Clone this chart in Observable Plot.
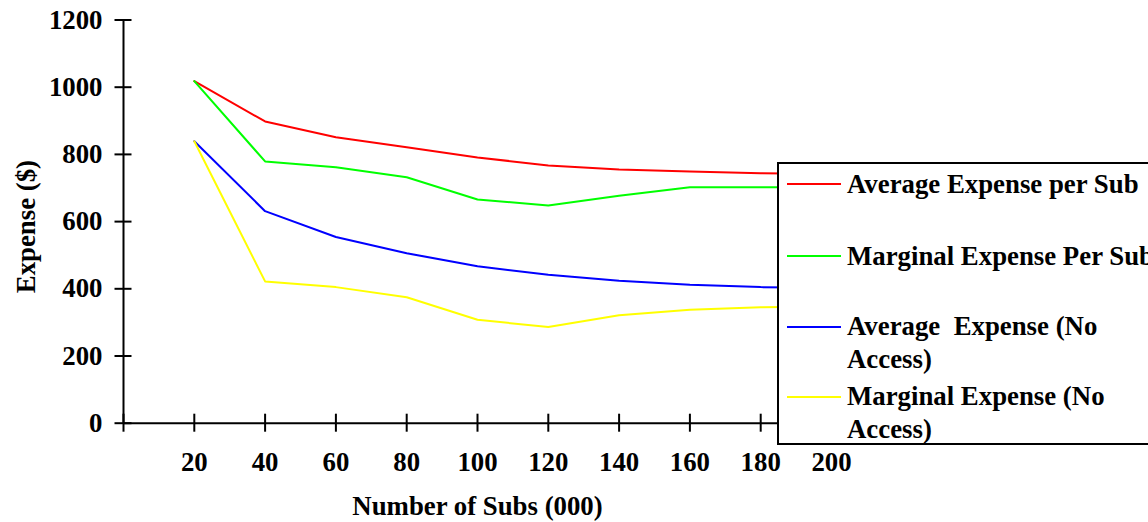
<!DOCTYPE html>
<html>
<head>
<meta charset="utf-8">
<script src="https://cdn.jsdelivr.net/npm/d3@7"></script>
<script src="https://cdn.jsdelivr.net/npm/@observablehq/plot@0.6"></script>
<style>
  html, body { margin: 0; padding: 0; background: #fff; overflow: hidden; }
  #wrap { position: relative; width: 1148px; height: 522px; overflow: hidden; }
  #legend { position: absolute; left: 777px; top: 162px; width: 380px; height: 279px;
            border-style: solid; border-color: #000; border-width: 2px 0 2px 2px;
            background: #fff; box-sizing: content-box; }
  .item { position: absolute; left: 847px; font-family: "Liberation Serif", "Times New Roman", serif;
          font-weight: bold; font-size: 26.8px; line-height: 32.5px; white-space: pre; color: #000; }
  .sw { position: absolute; left: 787px; width: 54px; height: 2px; }
</style>
</head>
<body>
<div id="wrap"></div>
<script>
// ---- data ----
const subs = [20, 40, 60, 80, 100, 120, 140, 160, 180, 200];
const seriesNames = ["Average Expense per Sub", "Marginal Expense Per Sub", "Average  Expense (No Access)", "Marginal Expense (No Access)"];
const seriesColors = ["#ff0000", "#00ff00", "#0000ff", "#ffff00"];
const avgPerSub    = [1018, 898, 851, 821, 791, 767, 755, 749, 744, 742];
const margPerSub   = [1018, 779, 762, 732, 666, 648, 677, 702, 702, 702];
const avgNoAccess  = [839, 631, 554, 506, 467, 442, 424, 412, 405, 403];
const margNoAccess = [839, 422, 405, 375, 308, 286, 321, 338, 345, 347];
const xTickValues = [0, 20, 40, 60, 80, 100, 120, 140, 160, 180, 200];
const xTickLabels = [20, 40, 60, 80, 100, 120, 140, 160, 180, 200];
const yTickValues = [0, 200, 400, 600, 800, 1000, 1200];
const xTitle = "Number of Subs (000)";
const yTitle = "Expense ($)";
const legendLines = [["Average Expense per Sub"], ["Marginal Expense Per Sub"], ["Average  Expense (No", "Access)"], ["Marginal Expense (No", "Access)"]];

const allSeries = [avgPerSub, margPerSub, avgNoAccess, margNoAccess];
const rows = [];
allSeries.forEach((vals, i) => vals.forEach((v, j) => rows.push({x: subs[j], y: v, series: seriesNames[i]})));

const font = '"Liberation Serif", "Times New Roman", serif';
const fs = 26.8;

const chart = Plot.plot({
  width: 1148,
  height: 522,
  marginLeft: 123,
  marginRight: 317,
  marginTop: 19.5,
  marginBottom: 99.3,
  x: {domain: [0, 200], axis: null},
  y: {domain: [0, 1200], axis: null},
  color: {domain: seriesNames, range: seriesColors},
  style: {fontFamily: font, fontWeight: "bold", fontSize: fs + "px", background: "#fff", color: "#000"},
  marks: [
    Plot.line(rows, {x: "x", y: "y", z: "series", stroke: "series", strokeWidth: 2}),
    Plot.ruleX([0], {stroke: "#000", strokeWidth: 2}),
    Plot.ruleY([0], {stroke: "#000", strokeWidth: 2}),
    Plot.axisY(yTickValues, {tickSize: 17, dx: 8.5, fill: "none", stroke: "#000", strokeWidth: 2, label: null}),
    Plot.axisY(yTickValues, {tickSize: 0, tickPadding: 21, label: null, fill: "#000", fontSize: fs, tickFormat: d => String(d)}),
    Plot.axisX(xTickValues, {tickSize: 18, dy: -9, fill: "none", stroke: "#000", strokeWidth: 2, label: null}),
    Plot.axisX(xTickLabels, {tickSize: 0, tickPadding: 29, label: null, fill: "#000", fontSize: fs, tickFormat: d => String(d)}),
    Plot.text([yTitle], {frameAnchor: "left", textAnchor: "middle", lineAnchor: "middle", dx: -97, dy: 5, rotate: -90, fontSize: fs, fill: "#000"}),
    Plot.text([xTitle], {frameAnchor: "bottom", textAnchor: "middle", lineAnchor: "middle", dy: 83, fontSize: fs, fill: "#000"})
  ]
});

const wrap = document.getElementById("wrap");
wrap.appendChild(chart);

// legend overlay
const legend = document.createElement("div");
legend.id = "legend";
wrap.appendChild(legend);
const centers = [185, 256.5, 326.7, 397];
const swatchY = [184.3, 256, 326.7, 396.7];
legendLines.forEach((lines, i) => {
  const sw = document.createElement("div");
  sw.className = "sw";
  sw.style.top = (swatchY[i] - 1) + "px";
  sw.style.background = seriesColors[i];
  wrap.appendChild(sw);
  const t = document.createElement("div");
  t.className = "item";
  t.style.top = (centers[i] - 16.6) + "px";
  t.textContent = lines.join("\n");
  wrap.appendChild(t);
});
</script>
</body>
</html>
